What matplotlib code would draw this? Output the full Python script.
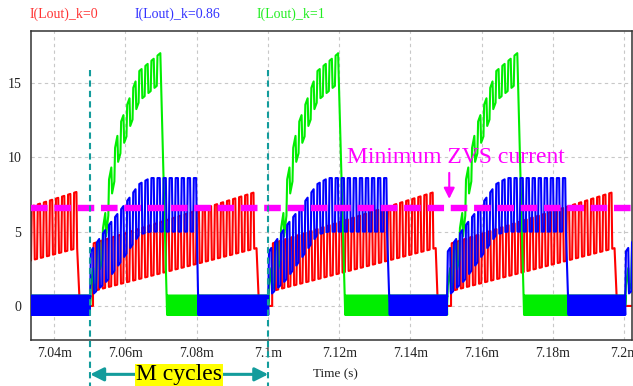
import numpy as np
import matplotlib.pyplot as plt

plt.rcParams['font.family'] = ['Liberation Serif', 'DejaVu Serif']

# switching-cycle timing (ms)
blue_on = [7.0501, 7.1001, 7.1503, 7.2003]
blue_off = [7.0801, 7.1338, 7.1840]
green_peak = [7.0698, 7.1197, 7.1700]
green_zero = [7.0717, 7.1217, 7.1719]
red_on = [7.0012, 7.0509, 7.1012, 7.1514]
red_off = [7.0467, 7.0970, 7.1472, 7.1975]

# burst envelopes, time offsets (ms) from burst start
blue_dt = [0, 0.0048, 0.0090, 0.0138, 0.0168]
blue_hi = [3.6, 5.3, 6.6, 8.2, 8.6]
blue_lo = [0.6, 1.7, 3.1, 4.8, 5.0]
green_dt = [0, 0.0011, 0.0039, 0.0053, 0.0081, 0.0138, 0.0197]
green_hi = [1.0, 3.0, 5.5, 8.5, 12.0, 15.8, 17.0]
green_lo = [0.0, 1.0, 3.5, 6.5, 10.0, 13.8, 15.0]
red_hi = [4.2, 7.7]
red_lo = [1.0, 3.9]
band_lo, band_hi = -0.6, 0.7
zvs_min = 6.6

xticks = [7.04, 7.06, 7.08, 7.10, 7.12, 7.14, 7.16, 7.18, 7.20]
yticks = [0, 5, 10, 15]
t_min, t_max = 7.0335, 7.2022
RIP_P = 0.0017    # switching ripple period
BAND_P = 0.0003   # idle band ripple
TOOTH = np.array([0.0, 0.12, 0.5, 0.62])   # one ripple cycle, fraction of period


def ripple(t0, t1, tk, lo, hi, period):
    starts = np.arange(t0, t1, period)
    t = (starts[:, None] + TOOTH * period).ravel()
    t = t[t <= t1]
    up = np.tile([False, True, True, False], len(starts))[:len(t)]
    y = np.where(up, np.interp(t, tk, hi), np.interp(t, tk, lo))
    return t, y


def band(t0, t1):
    n = max(int((t1 - t0) / BAND_P * 2), 1)
    t = np.linspace(t0, t1, n + 1)
    y = np.where(np.arange(n + 1) % 2 == 0, band_lo, band_hi)
    return t, y


def join(segs):
    return np.concatenate([s[0] for s in segs]), np.concatenate([s[1] for s in segs])


# k = 0.86
segs = [band(t_min - 0.001, blue_on[0])]
for i, on in enumerate(blue_on):
    off = blue_off[i] if i < len(blue_off) else t_max + 0.001
    segs.append(ripple(on, off, on + np.array(blue_dt), blue_lo, blue_hi, RIP_P))
    if i < len(blue_off):
        segs.append(band(off + 0.0004, blue_on[i + 1]))
t_blue, i_blue = join(segs)

# k = 1
segs = [band(t_min - 0.001, blue_on[0])]
for i, on in enumerate(blue_on):
    if i < len(green_peak):
        segs.append(ripple(on, green_peak[i], on + np.array(green_dt), green_lo, green_hi, RIP_P))
        segs.append(([green_peak[i]], [green_hi[-1]]))
        segs.append(band(green_zero[i], blue_on[i + 1]))
    else:
        segs.append(ripple(on, t_max + 0.001, on + np.array(green_dt), green_lo, green_hi, RIP_P))
t_green, i_green = join(segs)

# k = 0
segs = []
for i, on in enumerate(red_on):
    off = red_off[i]
    segs.append(ripple(on, off, [on, off], red_lo, red_hi, RIP_P))
    nxt = red_on[i + 1] if i + 1 < len(red_on) else t_max + 0.001
    segs.append(([off + 0.0005, nxt], [0, 0]))
t_red, i_red = join(segs)

fig = plt.figure(figsize=(6.33, 3.86), dpi=100)
ax = fig.add_axes([31 / 633, 46 / 386, 601 / 633, 309 / 386])

ax.plot(t_red, i_red, color='#ff0000', lw=1.5, zorder=2)
ax.plot(t_green, i_green, color='#00ee00', lw=1.5, zorder=3)
ax.plot(t_blue, i_blue, color='#0000ff', lw=1.5, zorder=4)
ax.axhline(zvs_min, color='#ff00ff', lw=4.6, dashes=(2.6, 1.05), zorder=5)

ax.set_xlim(t_min, t_max)
ax.set_ylim(-2.29, 18.49)
ax.set_xticks(xticks)
ax.set_xticklabels(['%gm' % v for v in xticks])
ax.set_yticks(yticks)
ax.tick_params(length=0, labelsize=10, colors='#222222')
ax.tick_params(axis='y', pad=7)
ax.tick_params(axis='x', pad=5)
ax.grid(True, color='#c8c8c8', lw=0.8, linestyle=(0, (3, 3)))
for s in ax.spines.values():
    s.set_color('#333333')
    s.set_linewidth(1.1)

# M-cycle markers
teal = '#139c9c'
for t in blue_on[:2]:
    ax.plot([t, t], [15.9, -5.5], color=teal, lw=1.5, dashes=(3, 2), clip_on=False, zorder=6)
ax.annotate('', xy=(blue_on[0], -4.6), xytext=(blue_on[1], -4.6),
            arrowprops=dict(arrowstyle='<|-|>', color=teal, lw=2.2, mutation_scale=20,
                            shrinkA=0, shrinkB=0),
            annotation_clip=False)
ax.text((blue_on[0] + blue_on[1]) / 2, -5.0, 'M cycles', fontsize=17, ha='center', va='baseline',
        bbox=dict(facecolor='#ffff00', edgecolor='none', pad=0.5), zorder=7, clip_on=False)

ax.text(7.1528, 9.95, 'Minimum ZVS current', color='#ff00ff', fontsize=17, ha='center', va='center')
ax.annotate('', xy=(7.1509, 7.2), xytext=(7.1509, 8.95),
            arrowprops=dict(arrowstyle='-|>', color='#ff00ff', lw=1.5, mutation_scale=16,
                            shrinkA=0, shrinkB=0))

fig.text(335 / 633, 1 - 374 / 386, 'Time (s)', fontsize=9.5, ha='center', va='center', color='#222222')
fig.text(30 / 633, 1 - 14 / 386, 'I(Lout)_k=0', color='#ff3333', fontsize=10, va='center')
fig.text(135 / 633, 1 - 14 / 386, 'I(Lout)_k=0.86', color='#3333ff', fontsize=10, va='center')
fig.text(257 / 633, 1 - 14 / 386, 'I(Lout)_k=1', color='#22ee22', fontsize=10, va='center')

fig.savefig('out.png', dpi=100)
